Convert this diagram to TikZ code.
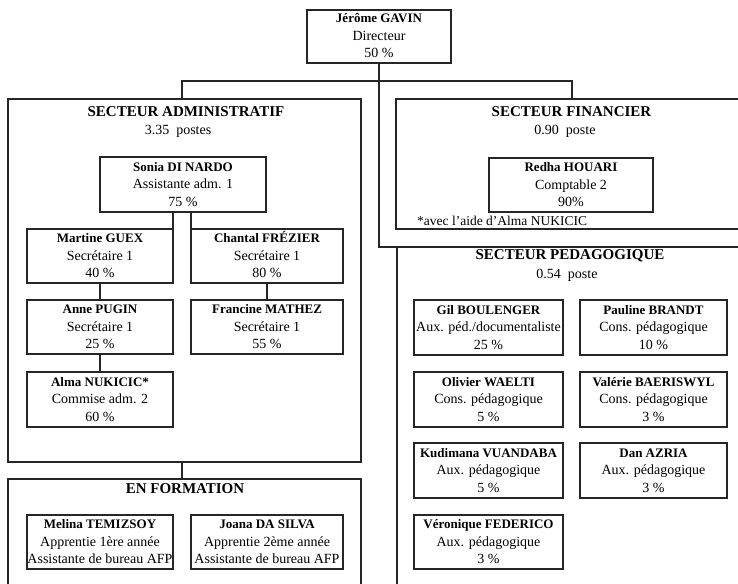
\documentclass[tikz,border=0pt]{standalone}
\usepackage{fontspec}
\setmainfont{Liberation Serif}
\definecolor{linec}{HTML}{262626}
\newcommand{\nm}[1]{{\fontsize{13}{17.5}\selectfont\bfseries\rule{0pt}{10.5pt}#1}}
\newcommand{\lst}[1]{#1\rule[-2.5pt]{0pt}{2.5pt}}
\tikzset{
  pbox/.style={draw=linec, line width=1.5pt, inner sep=0pt, outer sep=0pt, align=center,
    font=\fontsize{14}{17.5}\selectfont, minimum height=54pt},
  sector/.style={draw=linec, line width=1.5pt, inner sep=0pt, outer sep=0pt},
  head/.style={font=\fontsize{15}{18}\selectfont\bfseries, anchor=base, inner sep=0pt},
  sub/.style={font=\fontsize{14}{17}\selectfont, anchor=base, inner sep=0pt},
  note/.style={font=\fontsize{13.5}{16}\selectfont, anchor=base west, inner sep=0pt},
  conn/.style={draw=linec, line width=1.5pt}
}
\begin{document}
\begin{tikzpicture}[x=1pt,y=-1pt]
\useasboundingbox[fill=white] (0,0) rectangle (738,583);
\clip (0,0) rectangle (738,583);

% sector frames
\node[sector, minimum width=353pt, minimum height=363pt] (adm) at (184.5,280.5) {};
\node[sector, minimum width=349pt, minimum height=130pt] (fin) at (570.5,164) {};
\node[sector, minimum width=348pt, minimum height=343pt] (ped) at (571,418.5) {};
\node[sector, minimum width=353pt, minimum height=111pt] (form) at (184.5,534.5) {};

% headers
\node[head] (hadm) at (186,117) {SECTEUR ADMINISTRATIF};
\node[sub] (sadm) at (178,135) {3.35~~postes};
\node[head] (hfin) at (571.5,117) {SECTEUR FINANCIER};
\node[sub] (sfin) at (565,135) {0.90~~poste};
\node[head] (hped) at (570,259.5) {SECTEUR PEDAGOGIQUE};
\node[sub] (sped) at (567,278) {0.54~~poste};
\node[head] (hform) at (185,493) {EN FORMATION};
\node[note] (nfin) at (417,225) {*avec l'aide d'Alma NUKICIC};

% director
\node[pbox, minimum width=144pt, minimum height=53pt] (dir) at (379,36.5)
  {\nm{Jérôme GAVIN}\\ Directeur\\ \lst{50 \%}};

% administratif
\node[pbox, minimum width=166pt, minimum height=55pt] (sonia) at (183,184.5)
  {\nm{Sonia DI NARDO}\\ Assistante adm. 1\\ \lst{75 \%}};
\node[pbox, minimum width=146pt] (martine) at (100,256)
  {\nm{Martine GUEX}\\ Secrétaire 1\\ \lst{40 \%}};
\node[pbox, minimum width=152pt] (chantal) at (267,256)
  {\nm{Chantal FRÉZIER}\\ Secrétaire 1\\ \lst{80 \%}};
\node[pbox, minimum width=146pt] (anne) at (100,327)
  {\nm{Anne PUGIN}\\ Secrétaire 1\\ \lst{25 \%}};
\node[pbox, minimum width=152pt] (francine) at (267,327)
  {\nm{Francine MATHEZ}\\ Secrétaire 1\\ \lst{55 \%}};
\node[pbox, minimum width=146pt, minimum height=55pt] (alma) at (100,399.5)
  {\nm{Alma NUKICIC*}\\ Commise adm. 2\\ \lst{60 \%}};

% formation
\node[pbox, minimum width=146pt] (melina) at (100,542)
  {\nm{Melina TEMIZSOY}\\ Apprentie 1ère année\\ \lst{Assistante de bureau AFP}};
\node[pbox, minimum width=152pt] (joana) at (267,542)
  {\nm{Joana DA SILVA}\\ Apprentie 2ème année\\ \lst{Assistante de bureau AFP}};

% financier
\node[pbox, minimum width=164pt] (redha) at (571,185)
  {\nm{Redha HOUARI}\\ Comptable 2\\ \lst{90\%}};

% pedagogique
\node[pbox, minimum width=149pt, minimum height=55pt] (gil) at (488.5,327.5)
  {\nm{Gil BOULENGER}\\ Aux. péd./documentaliste\\ \lst{25 \%}};
\node[pbox, minimum width=147pt, minimum height=55pt] (pauline) at (653.5,327.5)
  {\nm{Pauline BRANDT}\\ Cons. pédagogique\\ \lst{10 \%}};
\node[pbox, minimum width=149pt, minimum height=55pt] (olivier) at (488.5,399.5)
  {\nm{Olivier WAELTI}\\ Cons. pédagogique\\ \lst{5 \%}};
\node[pbox, minimum width=147pt, minimum height=55pt] (valerie) at (653.5,399.5)
  {\nm{Valérie BAERISWYL}\\ Cons. pédagogique\\ \lst{3 \%}};
\node[pbox, minimum width=149pt, minimum height=55pt] (kudi) at (488.5,470.5)
  {\nm{Kudimana VUANDABA}\\ Aux. pédagogique\\ \lst{5 \%}};
\node[pbox, minimum width=147pt, minimum height=55pt] (dan) at (653.5,470.5)
  {\nm{Dan AZRIA}\\ Aux. pédagogique\\ \lst{3 \%}};
\node[pbox, minimum width=149pt] (vero) at (488.5,542)
  {\nm{Véronique FEDERICO}\\ Aux. pédagogique\\ \lst{3 \%}};

% connectors
\coordinate (jadm) at (182,99);
\coordinate (jfin) at (572,99);
\coordinate (bar) at (182,81);
\coordinate (sl) at (173,212);
\coordinate (sr) at (191,212);
\coordinate (ml) at (173,229);
\coordinate (cr) at (191,229);
\draw[conn] (jadm) -- (bar) -| (jfin);
\draw[conn] (dir.south) |- (ped.north west);
\draw[conn] (sl) -- (ml);
\draw[conn] (sr) -- (cr);
\draw[conn] (martine.south) -- (anne.north);
\draw[conn] (chantal.south) -- (francine.north);
\draw[conn] (anne.south) -- (alma.north);
\draw[conn] ([xshift=-2.5pt]adm.south) -- ([xshift=-2.5pt]form.north);
\end{tikzpicture}
\end{document}
